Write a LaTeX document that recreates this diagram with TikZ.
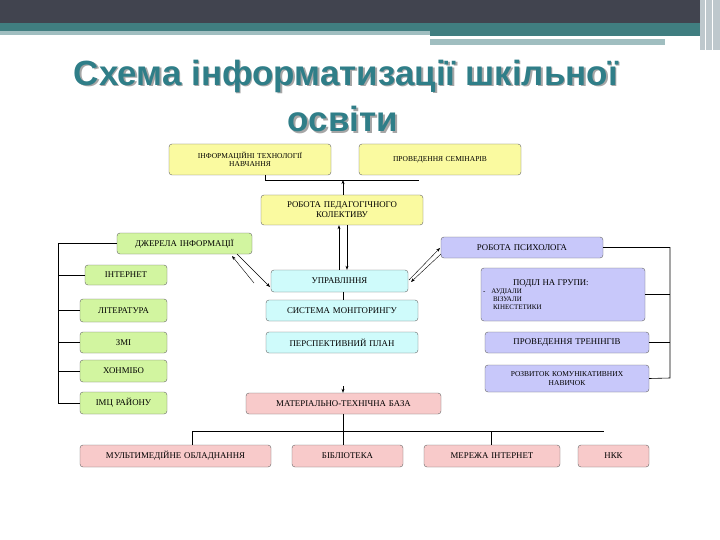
\documentclass[tikz,border=0pt]{standalone}
\usepackage{fontspec}
\setmainfont{Liberation Serif}
\newfontfamily\titlefont{Liberation Sans}
\usetikzlibrary{arrows.meta}
\definecolor{cyel}{HTML}{FAFAA0}
\definecolor{cgrn}{HTML}{D2F5A0}
\definecolor{ccyn}{HTML}{CFFBFB}
\definecolor{clav}{HTML}{C8C8FA}
\definecolor{cpnk}{HTML}{F8CACA}
\definecolor{ttl}{HTML}{2F7E88}
\definecolor{hdark}{HTML}{41444F}
\definecolor{hteal}{HTML}{407E80}
\definecolor{hlight}{HTML}{A0BEC0}
\definecolor{hgrey}{HTML}{BEC8CD}
\tikzset{
 box/.style={draw=black!60, rounded corners=3pt, inner sep=1pt, align=center, font=\fontsize{7.5}{8.5}\selectfont},
 big/.style={font=\fontsize{8.8}{10}\selectfont},
 ttlf/.style={font=\titlefont\bfseries\fontsize{35}{40}\selectfont},
 ln/.style={draw=black, line width=0.6pt},
 arr/.style={draw=black, line width=0.5pt, -{Stealth[length=4pt,width=3pt]}},
}
\newcommand{\bx}[7]{\node[box,#6,minimum width={(#4-#2)*1pt},minimum height={(#5-#3)*1pt},text width={(#4-#2-4)*1pt}] (#1) at ({(#2+#4)/2},{(#3+#5)/2}) {#7};}
\begin{document}
\begin{tikzpicture}[x=1pt,y=-1pt]
\useasboundingbox (0,0) rectangle (720,540);
\fill[white] (0,0) rectangle (720,540);
% header
\fill[hdark] (0,0) rectangle (720,23);
\fill[hteal] (0,23) rectangle (720,31);
\fill[hlight] (0,31) rectangle (430,35);
\fill[hteal] (430,31) rectangle (700,36);
\fill[hlight] (430,39) rectangle (665,45);
\fill[hgrey] (700,0) rectangle (720,50);
\draw[white,line width=1pt] (705,0) -- (705,50) (712,0)--(712,50);
% title
\node[ttlf, text=black!35] at (347.5,77.5) {Схема інформатизації шкільної};
\node[ttlf, text=ttl] (t1) at (346,76) {Схема інформатизації шкільної};
\node[ttlf, text=black!35] at (344.5,120.5) {освіти};
\node[ttlf, text=ttl] (t2) at (343,119) {освіти};
% boxes
\bx{it}{169}{144}{331}{175}{fill=cyel}{ІНФОРМАЦІЙНІ ТЕХНОЛОГІЇ\\НАВЧАННЯ}
\bx{sem}{359}{144}{521}{175}{fill=cyel}{ПРОВЕДЕННЯ СЕМІНАРІВ\\[7pt]}
\bx{pk}{261}{195}{423}{225}{fill=cyel,big}{РОБОТА ПЕДАГОГІЧНОГО\\КОЛЕКТИВУ}
\bx{dz}{117}{233}{252}{254}{fill=cgrn,big}{ДЖЕРЕЛА ІНФОРМАЦІЇ}
\bx{ps}{441}{237}{603}{258}{fill=clav,big}{РОБОТА ПСИХОЛОГА}
\bx{up}{271}{270}{408}{292}{fill=ccyn,big}{УПРАВЛІННЯ}
\bx{in}{85}{265}{167}{285}{fill=cgrn,big}{ІНТЕРНЕТ}
\bx{li}{80}{299}{167}{322}{fill=cgrn,big}{ЛІТЕРАТУРА}
\bx{zm}{80}{332}{167}{353}{fill=cgrn,big}{ЗМІ}
\bx{ho}{80}{360}{167}{382}{fill=cgrn,big}{ХОНМІБО}
\bx{im}{80}{392}{167}{414}{fill=cgrn,big}{ІМЦ РАЙОНУ}
\bx{si}{266}{300}{418}{321}{fill=ccyn,big}{СИСТЕМА МОНІТОРИНГУ}
\bx{pe}{266}{332}{418}{353}{fill=ccyn,big}{ПЕРСПЕКТИВНИЙ ПЛАН}
\node[box,fill=clav,minimum width=164pt,minimum height=53pt,text width=160pt,align=left,font=\fontsize{7}{8}\selectfont] (po) at (563,294.5) {\hspace*{30pt}{\fontsize{8.8}{10}\selectfont ПОДІЛ НА ГРУПИ:}\\-\hspace{6pt}АУДІАЛИ\\\hspace*{10pt}ВІЗУАЛИ\\\hspace*{10pt}КІНЕСТЕТИКИ};
\bx{tr}{485}{332}{649}{353}{fill=clav,big}{ПРОВЕДЕННЯ ТРЕНІНГІВ}
\bx{ko}{485}{365}{649}{392}{fill=clav}{РОЗВИТОК КОМУНІКАТИВНИХ\\НАВИЧОК}
\bx{mt}{246}{393}{441}{414}{fill=cpnk,big}{МАТЕРІАЛЬНО-ТЕХНІЧНА БАЗА}
\bx{mu}{80}{445}{271}{467}{fill=cpnk,big}{МУЛЬТИМЕДІЙНЕ ОБЛАДНАННЯ}
\bx{bi}{292}{445}{403}{467}{fill=cpnk,big}{БІБЛІОТЕКА}
\bx{me}{424}{445}{560}{467}{fill=cpnk,big}{МЕРЕЖА ІНТЕРНЕТ}
\bx{nk}{578}{445}{649}{467}{fill=cpnk,big}{НКК}
% top bracket
\coordinate (tb1) at (265,180); \coordinate (tb2) at (419,180); \coordinate (tbm) at (343,180);
\draw[ln] (it.south -| tb1) -- (tb1) -- (tb2);
\draw[arr] (pk.north -| tbm) -- (tbm);
% pk - up
\draw[arr] (up.north -| 339,0) -- (pk.south -| 339,0);
\draw[arr] (pk.south -| 347,0) -- (up.north -| 347,0);
% dz - up
\draw[arr, line width=0.4pt] (254,283) -- (232,256);
\draw[arr, line width=0.4pt] (237,254) -- (270,287);
% ps - up
\draw[arr, line width=0.4pt] (409,280) -- (440,248);
\draw[arr, line width=0.4pt] (441,254) -- (411,282);
% up - si
\draw[ln] (up.south -| 343,0) -- (si.north -| 343,0);
\coordinate (mtt) at (343,386);
\draw[arr] (mtt) -- (mt.north -| 343,0);
% left bracket
\coordinate (lb1) at (58,243.5); \coordinate (lb2) at (58,403);
\draw[ln] (dz.west) -- (lb1) -- (lb2) -- (im.west);
\draw[ln] (in.west) -- (in.west -| lb1);
\draw[ln] (li.west) -- (li.west -| lb1);
\draw[ln] (zm.west) -- (zm.west -| lb1);
\draw[ln] (ho.west) -- (ho.west -| lb1);
% right bracket
\coordinate (rb1) at (670,247.5); \coordinate (rb2) at (670,378);
\draw[ln] (ps.east) -- (rb1) -- (rb2) -- (ko.east);
\draw[ln] (po.east) -- (po.east -| rb1);
\draw[ln] (tr.east) -- (tr.east -| rb1);
% bottom
\coordinate (bh1) at (192,431); \coordinate (bh2) at (604,431);
\draw[ln] (mt.south -| 343,0) -- (bi.north -| 343,0);
\draw[ln] (bh1) -- (bh2);
\draw[ln] (bh1) -- (bh1 |- mu.north);
\draw[ln] (491,431) -- (me.north -| 491,0);
\end{tikzpicture}
\end{document}
